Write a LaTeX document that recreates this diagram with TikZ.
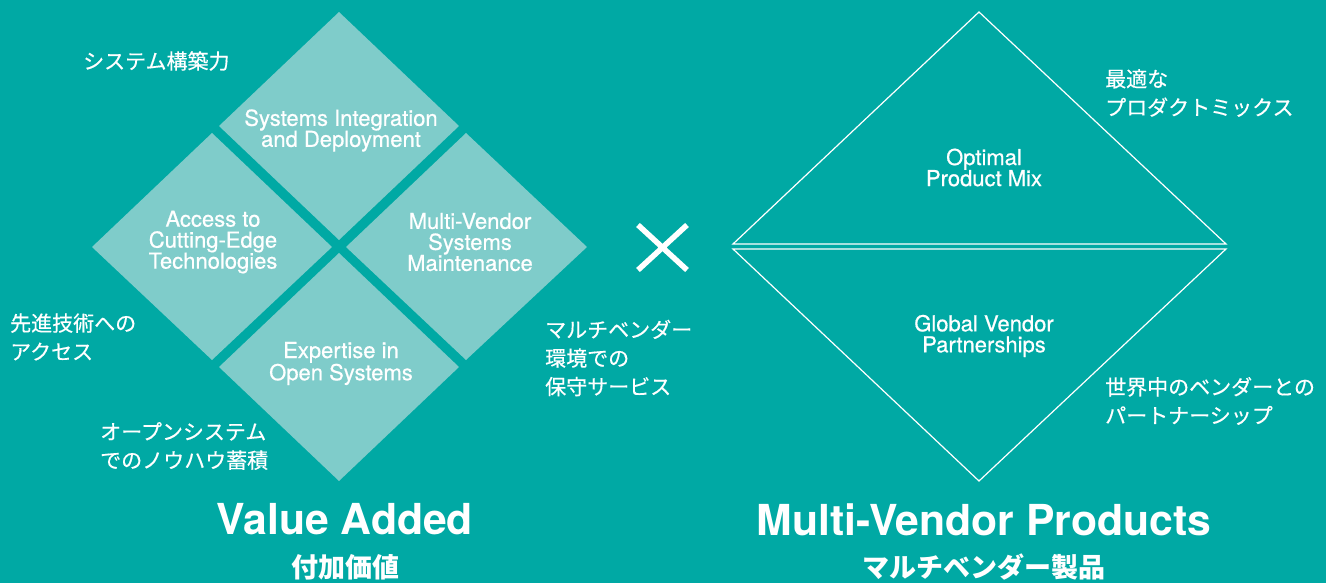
\documentclass[tikz,border=0pt]{standalone}
\usepackage{fontspec}
\setmainfont{TeX Gyre Heros}
\newfontfamily\medfont[FakeBold=0.6]{TeX Gyre Heros}
\newfontfamily\jp{Noto Sans CJK JP}
\newfontfamily\jpmed[FakeBold=0.4]{Noto Sans CJK JP}
\definecolor{bgcol}{RGB}{0,169,164}
\definecolor{tilecol}{RGB}{127,204,202}
\tikzset{
  tile/.style={fill=tilecol},
  entext/.style={text=white, inner sep=0pt, align=center, font=\medfont\fontsize{22}{21}\selectfont},
  jptext/.style={text=white, inner sep=0pt, align=left, anchor=west, font=\jpmed\fontsize{21}{28.5}\selectfont},
  title/.style={text=white, inner sep=0pt, anchor=base, font=\fontsize{42.7}{46}\selectfont\bfseries},
  jptitle/.style={text=white, inner sep=0pt, font=\jp\fontsize{27}{30}\selectfont\bfseries},
  outline/.style={draw=white, line width=1.2pt, line join=miter},
}
\begin{document}
\begin{tikzpicture}[x=1pt,y=-1pt]
\path[use as bounding box, fill=bgcol] (0,0) rectangle (1326,583);
% left tiles
\fill[tile] (339,12) -- (459,126) -- (339,240) -- (219,126) -- cycle;
\fill[tile] (212,133) -- (332,247) -- (212,360) -- (92,247) -- cycle;
\fill[tile] (466,133) -- (587,247) -- (466,360) -- (346,247) -- cycle;
\fill[tile] (339,253) -- (459,367) -- (339,481) -- (219,367) -- cycle;
\node[entext] (sid) at (341,130.5) {Systems Integration\\and Deployment};
\node[entext] (acc) at (213,242) {Access to\\Cutting-Edge\\Technologies};
\node[entext] (mvs) at (470,242) {Multi-Vendor\\Systems\\Maintenance};
\node[entext] (exp) at (341,363.5) {Expertise in\\Open Systems};
% times sign
\coordinate (x1) at (638,225); \coordinate (x2) at (687,270);
\coordinate (x3) at (638,270); \coordinate (x4) at (687,225);
\draw[white, line width=5.5pt] (x1) -- (x2) (x3) -- (x4);
% right triangles
\draw[outline] (979,12) -- (1226,244) -- (733,244) -- cycle;
\draw[outline] (733,249) -- (1226,249) -- (979,481) -- cycle;
\node[entext] (opm) at (984,167.5) {Optimal\\Product Mix};
\node[entext] (gvp) at (984,336) {Global Vendor\\Partnerships};
% japanese annotations
\node[jptext] (j1) at (83,61) {システム構築力};
\node[jptext] (j2) at (10,337) {先進技術への\\アクセス};
\node[jptext] (j3) at (545,358) {マルチベンダー\\環境での\\保守サービス};
\node[jptext] (j4) at (100,446) {オープンシステム\\でのノウハウ蓄積};
\node[jptext] (j5) at (1105,93) {最適な\\プロダクトミックス};
\node[jptext] (j6) at (1105,401) {世界中のベンダーとの\\パートナーシップ};
% titles
\node[title] (va) at (345,534) {Value Added};
\node[jptitle] (vaj) at (345,567) {付加価値};
\node[title] (mvp) at (984,535) {Multi-Vendor Products};
\node[jptitle] (mvpj) at (984,567) {マルチベンダー製品};
\end{tikzpicture}
\end{document}
